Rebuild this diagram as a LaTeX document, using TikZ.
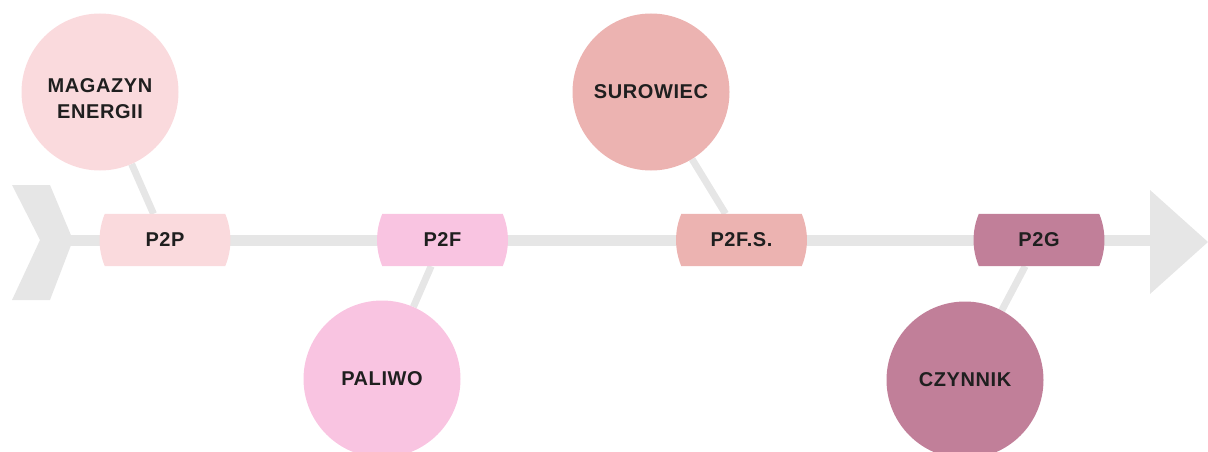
\documentclass[tikz,border=0pt]{standalone}
\usepackage{fontspec}
\setmainfont[LetterSpace=3]{Liberation Sans}
\usetikzlibrary{backgrounds}

\definecolor{blush}{HTML}{FADADD}
\definecolor{candy}{HTML}{F9C4E1}
\definecolor{salmon}{HTML}{ECB3B1}
\definecolor{mauve}{HTML}{C17F99}
\definecolor{spinegray}{HTML}{E6E6E6}
\definecolor{ink}{HTML}{1F1F1F}

\tikzset{
  topic/.style={circle, minimum size=157pt, inner sep=0pt,
    font=\bfseries\fontsize{20}{26}\selectfont, text=ink},
  tag/.style={minimum width=120pt, minimum height=52pt, inner sep=0pt,
    font=\bfseries\fontsize{20}{24}\selectfont, text=ink},
  link/.style={spinegray, line width=7pt},
}

\begin{document}
\begin{tikzpicture}[x=1pt,y=-1pt]
      \useasboundingbox (0,0) rectangle (1208,452);
      % tail and head of the spine
      \fill[spinegray] (12,185) -- (50,185) -- (73,240) -- (50,300)
        -- (12,300) -- (40,240) -- cycle;
      \fill[spinegray] (1150,190) -- (1208,242) -- (1150,294) -- cycle;
      \coordinate (tail) at (70,240);
      \coordinate (head) at (1152,240);
      \draw
        (165,240) node[tag] (p2p){P2P}
        (442.5,240) node[tag] (p2f){P2F}
        (741.5,240) node[tag] (p2fs){P2F.S.}
        (1039,240) node[tag] (p2g){P2G};
      \draw
        (100,92) node[topic,fill=blush,text height=35pt,text depth=34pt] (magazyn)
          {\begin{tabular}[t]{@{}c@{}}MAGAZYN\\ENERGII\end{tabular}}
        (651,92) node[topic,fill=salmon] (surowiec){SUROWIEC}
        (382,379) node[topic,fill=candy] (paliwo){PALIWO}
        (965,380) node[topic,fill=mauve] (czynnik){CZYNNIK};
      \begin{scope}[on background layer]
        \draw[spinegray, line width=11pt] (tail) -- (head);
        \draw[link] (magazyn) -- (p2p);
        \draw[link] (surowiec) -- (p2fs);
        \draw[link] (paliwo) -- (p2f);
        \draw[link] (czynnik) -- (p2g);
        \foreach \n/\c in {p2p/blush, p2f/candy, p2fs/salmon, p2g/mauve}
          \fill[\c] (\n.north west) -- (\n.north east)
            .. controls ([xshift=7pt,yshift=-17pt]\n.north east)
            and ([xshift=7pt,yshift=17pt]\n.south east) .. (\n.south east)
            -- (\n.south west)
            .. controls ([xshift=-7pt,yshift=17pt]\n.south west)
            and ([xshift=-7pt,yshift=-17pt]\n.north west) .. cycle;
      \end{scope}
    \end{tikzpicture}
\end{document}
